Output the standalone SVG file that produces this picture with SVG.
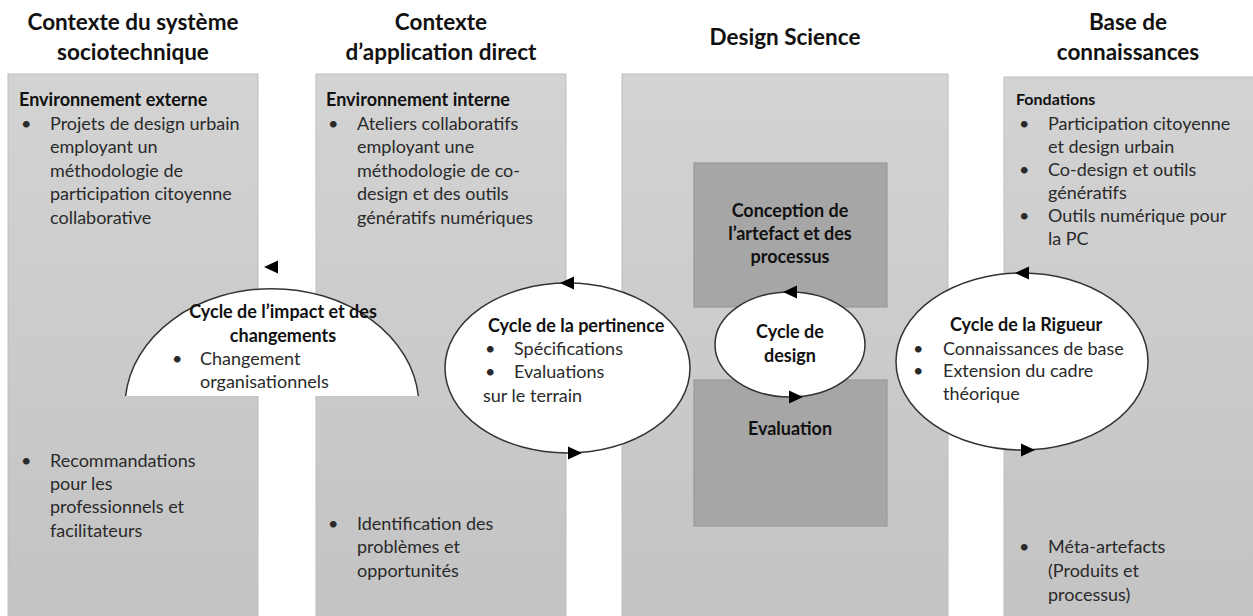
<svg xmlns="http://www.w3.org/2000/svg" width="1253" height="616" viewBox="0 0 1253 616">
<style>
text{font-family:Lato,"Liberation Sans",sans-serif;fill:#2a2a2a;font-size:18px}
.t{font-weight:bold;font-size:22.5px;fill:#111;text-anchor:middle}
.b{font-weight:bold;fill:#111}
.c{text-anchor:middle}
.col{fill:url(#g);stroke:#bdbdbd;stroke-width:1}
.box{fill:#a6a6a6;stroke:#999;stroke-width:1.2}
.ell{fill:#fff;stroke:#333;stroke-width:1.5}
.ah{fill:#000}
</style>
<defs>
<linearGradient id="g" x1="0" y1="0" x2="0" y2="1">
<stop offset="0" stop-color="#d3d3d3"/>
<stop offset="1" stop-color="#c3c3c3"/>
</linearGradient>
<path id="ah" d="M0,0 L14,-6.5 L14,6.5 Z"/>
</defs>
<rect width="1253" height="616" fill="#fff"/>

<g id="col-socio">
<text class="t" x="133" y="30">Contexte du système</text>
<text class="t" x="133" y="60">sociotechnique</text>
<rect class="col" x="8" y="74" width="250" height="550"/>
<text class="b" x="19" y="106">Environnement externe</text>
<text x="21" y="130">•</text><text x="50" y="130">Projets de design urbain</text>
<text x="50" y="153">employant un</text>
<text x="50" y="177">méthodologie de</text>
<text x="50" y="200">participation citoyenne</text>
<text x="50" y="224">collaborative</text>
<text x="21" y="467">•</text><text x="50" y="467">Recommandations</text>
<text x="50" y="490">pour les</text>
<text x="50" y="513">professionnels et</text>
<text x="50" y="537">facilitateurs</text>
</g>

<g id="col-application">
<text class="t" x="441" y="30">Contexte</text>
<text class="t" x="441" y="60">d’application direct</text>
<rect class="col" x="316" y="74" width="250" height="550"/>
<text class="b" x="326" y="106">Environnement interne</text>
<text x="328" y="130">•</text><text x="357" y="130">Ateliers collaboratifs</text>
<text x="357" y="153">employant une</text>
<text x="357" y="177">méthodologie de co-</text>
<text x="357" y="200">design et des outils</text>
<text x="357" y="224">génératifs numériques</text>
<text x="328" y="530">•</text><text x="357" y="530">Identification des</text>
<text x="357" y="553">problèmes et</text>
<text x="357" y="577">opportunités</text>
</g>

<g id="col-design">
<text class="t" x="785" y="45">Design Science</text>
<rect class="col" x="622" y="74" width="326" height="550"/>
</g>

<g id="col-base">
<text class="t" x="1128" y="30">Base de</text>
<text class="t" x="1128" y="60">connaissances</text>
<rect class="col" x="1004" y="77" width="255" height="550"/>
<text class="b" x="1016" y="105" style="font-size:16px">Fondations</text>
<text x="1019" y="130">•</text><text x="1048" y="130">Participation citoyenne</text>
<text x="1048" y="153">et design urbain</text>
<text x="1019" y="176">•</text><text x="1048" y="176">Co-design et outils</text>
<text x="1048" y="199">génératifs</text>
<text x="1019" y="222">•</text><text x="1048" y="222">Outils numérique pour</text>
<text x="1048" y="245">la PC</text>
<text x="1019" y="553">•</text><text x="1048" y="553">Méta-artefacts</text>
<text x="1048" y="577">(Produits et</text>
<text x="1048" y="601">processus)</text>
</g>

<g id="conception">
<rect class="box" x="694" y="163" width="193" height="144"/>
<text class="b c" x="790" y="217">Conception de</text>
<text class="b c" x="790" y="240">l’artefact et des</text>
<text class="b c" x="790" y="263">processus</text>
</g>

<g id="evaluation">
<rect class="box" x="694" y="380" width="193" height="146"/>
<text class="b c" x="790" y="435">Evaluation</text>
</g>

<g id="cycle-impact">
<path class="ell" d="M125.6,396 A147,118 0 0 1 418.4,396"/>
<text class="b c" x="283" y="318">Cycle de l’impact et des</text>
<text class="b c" x="283" y="342">changements</text>
<text x="172" y="365">•</text><text x="200" y="365">Changement</text>
<text x="200" y="388">organisationnels</text>
</g>

<g id="cycle-pertinence">
<ellipse class="ell" cx="567.5" cy="368" rx="122.5" ry="85"/>
<text class="b" x="488" y="332">Cycle de la pertinence</text>
<text x="485" y="355">•</text><text x="514" y="355">Spécifications</text>
<text x="485" y="378">•</text><text x="514" y="378">Evaluations</text>
<text x="483" y="402">sur le terrain</text>
</g>

<g id="cycle-design">
<ellipse class="ell" cx="790" cy="344.5" rx="75" ry="52.5"/>
<text class="b c" x="790" y="338">Cycle de</text>
<text class="b c" x="790" y="362">design</text>
</g>

<g id="cycle-rigueur">
<ellipse class="ell" cx="1022" cy="361.5" rx="126" ry="88.5"/>
<text class="b" x="950" y="331">Cycle de la Rigueur</text>
<text x="913" y="355">•</text><text x="943" y="355">Connaissances de base</text>
<text x="913" y="377">•</text><text x="943" y="377">Extension du cadre</text>
<text x="943" y="400">théorique</text>
</g>

<g id="connectors">
<use href="#ah" class="ah" transform="translate(264,267)"/>
<use href="#ah" class="ah" transform="translate(560,283)"/>
<use href="#ah" class="ah" transform="translate(582,453) rotate(180)"/>
<use href="#ah" class="ah" transform="translate(783,292)"/>
<use href="#ah" class="ah" transform="translate(803,397) rotate(180)"/>
<use href="#ah" class="ah" transform="translate(1015,273)"/>
<use href="#ah" class="ah" transform="translate(1035,450) rotate(180)"/>
</g>
</svg>
